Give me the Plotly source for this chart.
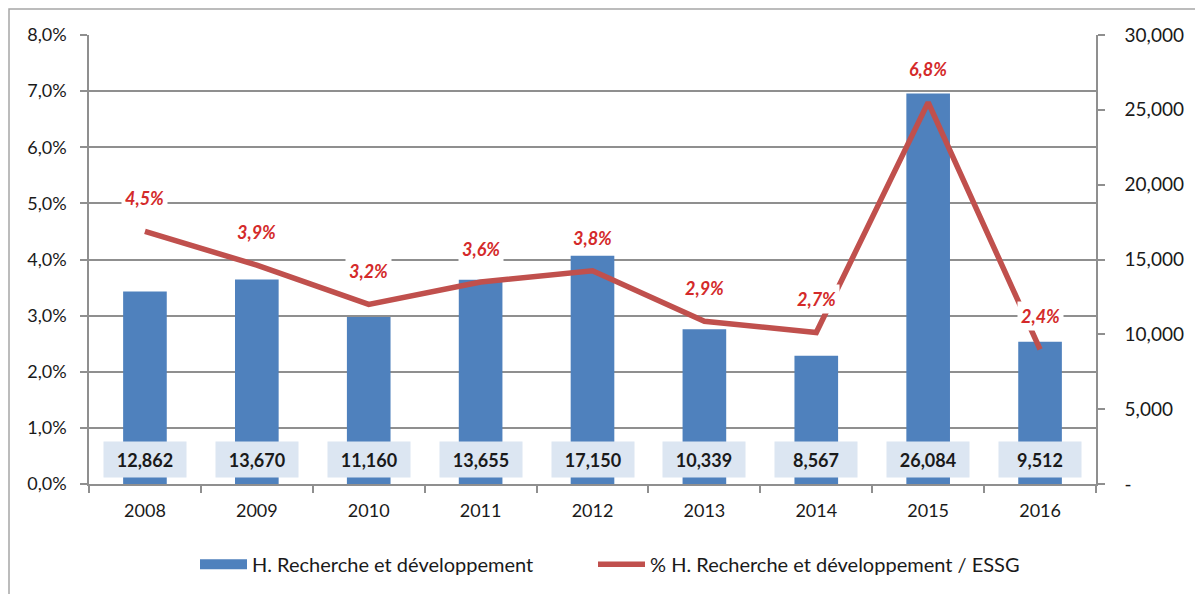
import plotly.graph_objects as go

years = ["2008", "2009", "2010", "2011", "2012", "2013", "2014", "2015", "2016"]
# bar heights as drawn in the reference (the 2012 bar is drawn lower than its label)
heures = [12862, 13670, 11160, 13655, 15250, 10339, 8567, 26084, 9512]
pct = [4.5, 3.9, 3.2, 3.6, 3.8, 2.9, 2.7, 6.8, 2.4]
bar_labels = ["12,862", "13,670", "11,160", "13,655", "17,150", "10,339", "8,567", "26,084", "9,512"]
pct_labels = ["4,5%", "3,9%", "3,2%", "3,6%", "3,8%", "2,9%", "2,7%", "6,8%", "2,4%"]
left_ticks = [0, 1, 2, 3, 4, 5, 6, 7, 8]
left_ticktext = ["0,0%", "1,0%", "2,0%", "3,0%", "4,0%", "5,0%", "6,0%", "7,0%", "8,0%"]
right_ticks = [0, 5000, 10000, 15000, 20000, 25000, 30000]
right_ticktext = ["-", "5,000", "10,000", "15,000", "20,000", "25,000", "30,000"]

FONT = "Lato"
GRID = "#8f8f8f"
TXT = "#1a1a1a"
BLUE = "#4F81BD"
RED = "#C0504D"

fig = go.Figure()
fig.add_trace(go.Bar(
    x=years, y=heures, name="H. Recherche et développement",
    marker=dict(color=BLUE, line=dict(width=0)),
    yaxis="y", width=0.39, showlegend=False, legendgroup="bars",
))
# legend entry for the bars, drawn as a wide block like the reference
fig.add_trace(go.Scatter(
    x=[None], y=[None], name="H. Recherche et développement",
    mode="lines", line=dict(color=BLUE, width=14),
    yaxis="y", legendgroup="bars", hoverinfo="skip", legend="legend",
))
fig.add_trace(go.Scatter(
    x=years, y=pct, name="% H. Recherche et développement / ESSG",
    mode="lines", line=dict(color=RED, width=5.5),
    yaxis="y2", legend="legend2",
))

annotations = []
for i, lab in enumerate(bar_labels):
    annotations.append(dict(
        x=i, y=0, xref="x", yref="y", yanchor="bottom", yshift=6,
        text="<b>" + lab + "</b>", showarrow=False,
        bgcolor="#DCE6F2", width=70, height=23, borderpad=6,
        font=dict(family=FONT, size=18, color=TXT),
    ))
for i, (v, lab) in enumerate(zip(pct, pct_labels)):
    annotations.append(dict(
        x=i, y=v, xref="x", yref="y2", yanchor="middle", yshift=33,
        text="<b><i>" + lab + "</i></b>", showarrow=False,
        bgcolor="white", borderpad=3,
        font=dict(family=FONT, size=18, color="#D42A2A"),
    ))

legend_common = dict(
    orientation="h", xanchor="left", y=-0.176, yanchor="middle",
    font=dict(family=FONT, size=20, color=TXT), itemwidth=47, bgcolor="rgba(0,0,0,0)",
)

fig.update_layout(
    width=1195, height=586,
    margin=dict(l=81, r=107, t=27, b=109),
    paper_bgcolor="white", plot_bgcolor="white",
    font=dict(family=FONT, size=18, color=TXT),
    xaxis=dict(
        type="category", range=[-0.5, 8.5], showgrid=False, showline=True, linecolor=GRID, linewidth=1.5,
        ticks="outside", tickson="boundaries", ticklen=7, tickcolor=GRID, tickwidth=1.5,
        ticklabelstandoff=10,
        tickfont=dict(family=FONT, size=18, color=TXT),
    ),
    yaxis=dict(
        side="right", range=[0, 30000], tickvals=right_ticks, ticktext=right_ticktext,
        showgrid=False, showline=True, linecolor=GRID, linewidth=1.5,
        ticks="outside", ticklen=7, tickcolor=GRID, tickwidth=1.5, zeroline=False,
        ticklabelstandoff=16,
        tickfont=dict(family=FONT, size=19, color=TXT),
    ),
    yaxis2=dict(
        side="left", overlaying="y", range=[0, 8], tickvals=left_ticks, ticktext=left_ticktext,
        showgrid=True, gridcolor=GRID, gridwidth=1.5, showline=True, linecolor=GRID, linewidth=1.5,
        ticks="outside", ticklen=7, tickcolor=GRID, tickwidth=1.5, zeroline=False,
        ticklabelstandoff=10,
        tickfont=dict(family=FONT, size=18, color=TXT),
    ),
    legend=dict(x=(195 - 89) / 1007, **legend_common),
    legend2=dict(x=(593 - 89) / 1007, **legend_common),
    annotations=annotations,
    shapes=[dict(
        type="rect", xref="paper", yref="paper",
        x0=-80 / 1007, x1=1.2, y0=-0.5, y1=1 + 26 / 450,
        line=dict(color="#a6a6a6", width=1.5), fillcolor="rgba(0,0,0,0)", layer="below",
    )],
    showlegend=True,
)

fig.write_html("out.html")
